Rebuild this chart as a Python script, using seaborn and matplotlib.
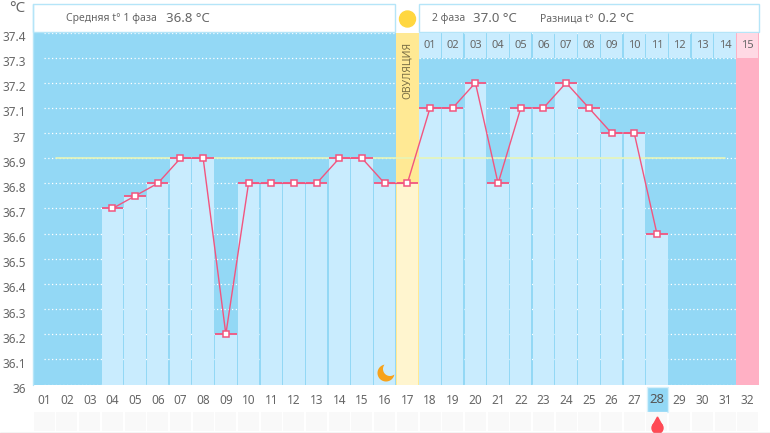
"""Basal temperature chart: one cycle, with phase summary in the header."""
import matplotlib.pyplot as plt
import numpy as np
import pandas as pd
import seaborn as sns
from matplotlib.patches import Circle, Polygon, Rectangle
from matplotlib.transforms import ScaledTranslation

# ---------------------------------------------------------------------------
# Data
# ---------------------------------------------------------------------------
DAYS = [f"{d:02d}" for d in range(1, 33)]
TEMPS = [
    None, None, None, 36.7, 36.75, 36.8, 36.9, 36.9, 36.2, 36.8, 36.8,
    36.8, 36.8, 36.9, 36.9, 36.8, 36.8, 37.1, 37.1, 37.2, 36.8, 37.1,
    37.1, 37.2, 37.1, 37.0, 37.0, 36.6, None, None, None, None,
]
Y_TICKS = [36, 36.1, 36.2, 36.3, 36.4, 36.5, 36.6, 36.7, 36.8, 36.9,
           37, 37.1, 37.2, 37.3, 37.4]
Y_LABELS = ["36", "36.1", "36.2", "36.3", "36.4", "36.5", "36.6", "36.7",
            "36.8", "36.9", "37", "37.1", "37.2", "37.3", "37.4"]
LUTEAL_DAYS = [f"{d:02d}" for d in range(1, 16)]
COVER_LINE = 36.9
OVULATION_DAY = "17"
PERIOD_DAY = "28"
LAST_DAY = "32"

# ---------------------------------------------------------------------------
# Style
# ---------------------------------------------------------------------------
sns.set_theme(style="white")
plt.rcParams["font.family"] = ["Noto Sans", "DejaVu Sans"]

BLUE = "#93D8F5"
BAR_BLUE = "#C9ECFE"
PINK = "#FFB0C4"
YELLOW = "#FFE994"
PALE_YELLOW = "#FFF5CF"
RED = "#F2557F"
TEXT = "#666666"
W, H = 770, 433


def add_header_text(ax):
    ax.text(66, 18.5, "Средняя t° 1 фаза", fontsize=7.5, color=TEXT, va="center")
    ax.text(166, 18, "36.8 °C", fontsize=9.5, color=TEXT, va="center")
    ax.text(432, 18.5, "2 фаза", fontsize=7.5, color=TEXT, va="center")
    ax.text(473, 18, "37.0 °C", fontsize=9.5, color=TEXT, va="center")
    ax.text(540, 18.5, "Разница t°", fontsize=7.5, color=TEXT, va="center")
    ax.text(598, 18, "0.2 °C", fontsize=9.5, color=TEXT, va="center")
    ax.text(9, 8, "°C", fontsize=11, color=TEXT, va="center")


def crescent(cx, cy, r, bx, by, br, color):
    """Circle (cx, cy, r) with the part inside circle (bx, by, br) cut away."""
    t = np.linspace(0, 2 * np.pi, 360, endpoint=False)
    # start the walk inside the bite so the kept arcs stay contiguous
    start = np.arctan2(by - cy, bx - cx)
    t = start + t
    ox, oy = cx + r * np.cos(t), cy + r * np.sin(t)
    keep = np.hypot(ox - bx, oy - by) > br
    start_b = np.arctan2(cy - by, cx - bx)
    tb = start_b + np.linspace(np.pi, -np.pi, 360, endpoint=False)
    ix, iy = bx + br * np.cos(tb), by + br * np.sin(tb)
    inner = np.hypot(ix - cx, iy - cy) < r
    # rotate the inner arc so it runs back from the outer arc's end
    bx_pts = np.column_stack([ix[inner], iy[inner]])
    out_pts = np.column_stack([ox[keep], oy[keep]])
    if np.hypot(*(bx_pts[0] - out_pts[-1])) > np.hypot(*(bx_pts[-1] - out_pts[-1])):
        bx_pts = bx_pts[::-1]
    return Polygon(np.vstack([out_pts, bx_pts]), closed=True, color=color, lw=0)


def add_overlay(fig):
    """Pixel-space layer for header boxes, icons and the bottom strip."""
    over = fig.add_axes([0, 0, 1, 1], facecolor="none")
    over.set_xlim(0, W)
    over.set_ylim(H, 0)
    over.axis("off")

    for x0, x1 in [(33, 395), (419, 759)]:
        over.add_patch(Rectangle((x0, 4), x1 - x0, 28, facecolor="white",
                                 edgecolor="#B5E5F8", linewidth=1))
    over.plot([32.5, 32.5], [4, 385], color="#B5E5F8", lw=1)
    add_header_text(over)

    # sun, moon, drop
    over.add_patch(Circle((407.5, 19), 8, color="#FFD740"))
    over.add_patch(crescent(386, 373, 8.5, 390, 369, 7, "#F7A21B"))
    over.add_patch(Rectangle((647, 387), 21, 25, facecolor=BLUE,
                             edgecolor="#D5F0FB", linewidth=1))

    # empty icon strip under the day labels
    for i in range(len(DAYS)):
        cx = 44.3 + i * 22.69
        over.add_patch(Rectangle((cx - 10.5, 412), 21, 19, color="#F9F9F9", lw=0))
    over.plot([0, W], [432.5, 432.5], color="#C8C8C8", lw=1)
    over.add_patch(Circle((657.5, 428), 5.5, color="#FF4A55"))
    over.add_patch(Polygon([(657.5, 417), (652.6, 426), (662.4, 426)], color="#FF4A55"))
    return over


def main():
    df = pd.DataFrame({"day": DAYS, "temp": pd.array(TEMPS, dtype="Float64")})
    df["temp"] = df["temp"].astype(float)
    df["pos"] = np.arange(len(df))
    ov_pos = DAYS.index(OVULATION_DAY)
    last_pos = DAYS.index(LAST_DAY)

    fig = plt.figure(figsize=(W / 100, H / 100), dpi=100, facecolor="white")
    ax = fig.add_axes([33 / W, 1 - 384.5 / H, 726 / W, 352 / H], facecolor=BLUE)

    # coloured columns behind the bars
    ax.axvspan(ov_pos - 0.5, ov_pos + 0.5, color=YELLOW, lw=0, zorder=1.5)
    ax.axvspan(last_pos - 0.5, last_pos + 0.5, color=PINK, lw=0, zorder=1.5)

    # dotted temperature grid
    for y in Y_TICKS:
        ax.plot([0.0, len(DAYS) - 1.5], [y, y], color="white", lw=0.9,
                ls=(0, (1, 2)), zorder=1, clip_on=True)

    palette = {d: (PALE_YELLOW if d == OVULATION_DAY else BAR_BLUE) for d in DAYS}
    sns.barplot(data=df, x="day", y="temp", hue="day", palette=palette,
                legend=False, width=0.94, saturation=1, errorbar=None,
                linewidth=0, edgecolor="none", zorder=2, ax=ax)

    ax.plot([0.5, 30.0], [COVER_LINE, COVER_LINE], color="#E6F5B8", lw=1.2, zorder=3)

    measured = df.dropna(subset=["temp"])
    ax.hlines(measured["temp"], measured["pos"] - 0.47, measured["pos"] + 0.47,
              color=RED, lw=1.3, zorder=4)
    sns.lineplot(data=measured, x="pos", y="temp", color=RED, lw=1.0, marker="s",
                 markersize=4.5, markerfacecolor="white", markeredgecolor=RED,
                 markeredgewidth=1.1, zorder=5, ax=ax)

    ax.set_xlim(-0.5, len(DAYS) - 0.5)
    ax.set_ylim(Y_TICKS[0], Y_TICKS[-1])
    ax.set_xlabel("")
    ax.set_ylabel("")
    ax.set_yticks(Y_TICKS, Y_LABELS)
    ax.tick_params(axis="y", length=0, pad=5, labelsize=8.5, labelcolor=TEXT)
    ax.tick_params(axis="x", length=0, pad=7, labelsize=8.5, labelcolor=TEXT)
    shift = ScaledTranslation(0, -2.5 / 72, fig.dpi_scale_trans)
    for lab in ax.get_yticklabels():
        lab.set_transform(lab.get_transform() + shift)
    for lab in ax.get_xticklabels():
        if lab.get_text() == PERIOD_DAY:
            lab.set_alpha(0)
    sns.despine(ax=ax, left=True, bottom=True, top=True, right=True)

    over = add_overlay(fig)

    # highlighted period day label goes over its box
    cx = 33 + (DAYS.index(PERIOD_DAY) + 0.5) * 726 / len(DAYS)
    over.text(cx, 399.5, PERIOD_DAY, ha="center", va="center", fontsize=9.5,
              color="#555555")

    # second-phase day counter on top of the plot
    for i, name in enumerate(LUTEAL_DAYS):
        x = ov_pos + 1 + i
        px = 33 + (x + 0.5) * 726 / len(DAYS)
        is_last = name == LUTEAL_DAYS[-1]
        over.add_patch(Rectangle((px - 10.7, 33), 21.4, 25, lw=0,
                                 color="#FFD9E4" if is_last else BAR_BLUE))
        over.text(px, 46, name, ha="center", va="center", fontsize=8, color=TEXT)

    px = 33 + (ov_pos + 0.5) * 726 / len(DAYS)
    over.text(px, 70, "ОВУЛЯЦИЯ", rotation=90, ha="center", va="center",
              fontsize=7.5, color="#7A6F45")

    fig.savefig("out.png", dpi=100)
    plt.close(fig)


if __name__ == "__main__":
    main()
